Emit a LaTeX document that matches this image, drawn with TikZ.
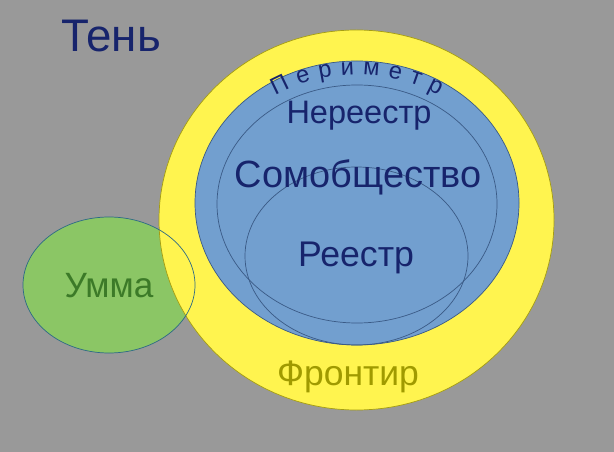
\documentclass[tikz,border=0pt]{standalone}
\usepackage{fontspec}
\setmainfont{Liberation Sans}
\usepackage{xcolor}
\usepackage{tikz}
\usetikzlibrary{decorations.text}

\definecolor{shadegray}{HTML}{999999}
\definecolor{frontyellow}{HTML}{FFF44F}
\definecolor{frontedge}{HTML}{A59D12}
\definecolor{commblue}{HTML}{729FCF}
\definecolor{commedge}{HTML}{3A5A86}
\definecolor{navytext}{HTML}{17246C}
\definecolor{ummagreen}{HTML}{8BC665}
\definecolor{ummaedge}{HTML}{2C6A86}
\definecolor{ummatext}{HTML}{3C7A28}
\definecolor{fronttext}{HTML}{A09A00}

\begin{document}
\begin{tikzpicture}[
    x=0.02cm, y=-0.02cm,
    zone/.style={line width=0.4pt},
    label/.style={inner sep=0pt, anchor=center},
    navy/.style={label, text=navytext}
]

% background
\fill[shadegray] (0,0) rectangle (614,452);

% Umma fill under the frontier
\fill[ummagreen] (109,285) ellipse [x radius=86, y radius=68];

% Frontier
\filldraw[zone, fill=frontyellow, draw=frontedge] (356.5,220) ellipse [x radius=197.5, y radius=190];

% Umma outline on top
\draw[zone, ummaedge] (109,285) ellipse [x radius=86, y radius=68];

% Community
\filldraw[zone, fill=commblue, draw=commedge] (357,203) ellipse [x radius=162, y radius=142];
\draw[zone, commedge] (357,204) ellipse [x radius=140, y radius=119];
\draw[zone, commedge] (356.5,256) ellipse [x radius=111.5, y radius=89];

% Perimeter text on arc
\path[decorate, decoration={text along path, text align={fit to path},
    text={|\fontsize{13.5}{13.5}\selectfont\color{navytext}|Периметр}}]
    (357,203) ++(-123:150 and 128) arc [start angle=-123, end angle=-57, x radius=150, y radius=128];

% Labels
\node[navy, font=\fontsize{26}{26}\selectfont] (shadow) at (111,36) {Тень};
\node[navy, font=\fontsize{18.5}{18.5}\selectfont] (unreg) at (359,116) {Нереестр};
\node[navy, font=\fontsize{21.6}{21.6}\selectfont] (comm) at (358,177) {Сомобщество};
\node[navy, font=\fontsize{20.3}{20.3}\selectfont] (reg) at (356,258) {Реестр};
\node[label, text=ummatext, font=\fontsize{20}{20}\selectfont] (umma) at (109,286) {Умма};
\node[label, text=fronttext, font=\fontsize{20.2}{20.2}\selectfont] (front) at (348,377) {Фронтир};

\end{tikzpicture}
\end{document}
